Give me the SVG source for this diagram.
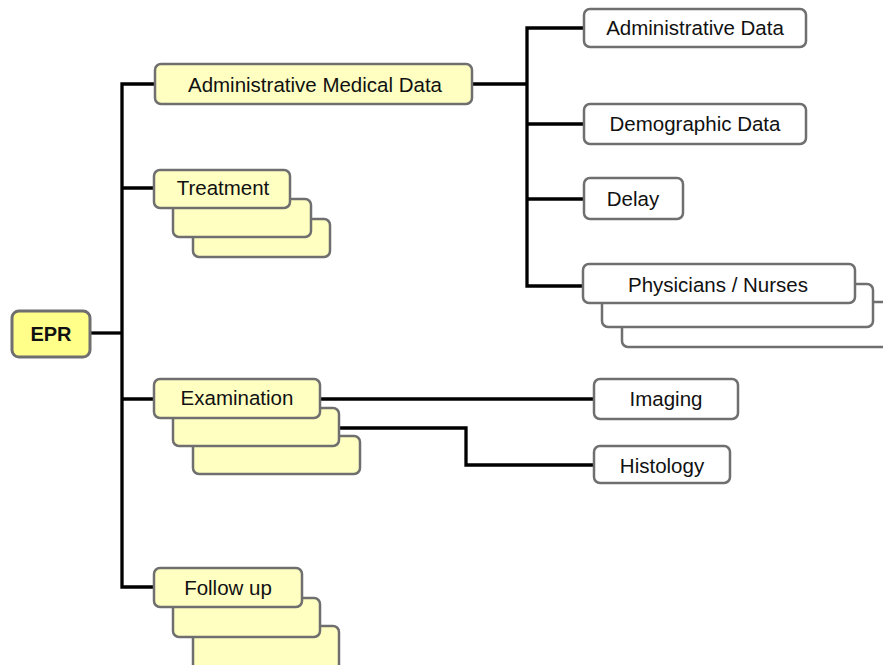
<svg xmlns="http://www.w3.org/2000/svg" width="883" height="665" viewBox="0 0 883 665">
<defs>
<style>
.y{fill:#ffffc2;stroke:#6f6f6f;stroke-width:2.5}
.w{fill:#ffffff;stroke:#6f6f6f;stroke-width:2.5}
.e{fill:#ffff8a;stroke:#6f6f6f;stroke-width:3}
.t{font-family:"Liberation Sans",Arial,sans-serif;font-size:20.5px;fill:#111;text-anchor:middle}
.b{font-family:"Liberation Sans",Arial,sans-serif;font-size:20px;font-weight:bold;fill:#111;text-anchor:middle}
.c{fill:none;stroke:#000;stroke-width:3.3}
</style>
</defs>
<rect width="883" height="665" fill="#fff"/>
<g id="connectors">
<polyline class="c" points="90,333 122,333"/>
<polyline class="c" points="155,84 122,84 122,587 155,587"/>
<polyline class="c" points="122,188 155,188"/>
<polyline class="c" points="122,399 155,399"/>
<polyline class="c" points="472,84 527,84"/>
<polyline class="c" points="584,28 527,28 527,286 584,286"/>
<polyline class="c" points="527,124 584,124"/>
<polyline class="c" points="527,199 584,199"/>
<polyline class="c" points="320,399 594,399"/>
<polyline class="c" points="339,428 466,428 466,465 594,465"/>
</g>
<g id="epr">
<rect class="e" x="12" y="311" width="78" height="46" rx="7"/>
<text class="b" x="51" y="341">EPR</text>
</g>
<g id="amd">
<rect class="y" x="155" y="64" width="317" height="40" rx="6"/>
<text class="t" x="315" y="92">Administrative Medical Data</text>
</g>
<g id="treatment">
<rect class="y" x="193" y="219" width="137" height="38" rx="6"/>
<rect class="y" x="173" y="199" width="138" height="38" rx="6"/>
<rect class="y" x="154" y="170" width="136" height="38" rx="6"/>
<text class="t" x="223" y="195">Treatment</text>
</g>
<g id="examination">
<rect class="y" x="193" y="436" width="167" height="38" rx="6"/>
<rect class="y" x="173" y="408" width="166" height="38" rx="6"/>
<rect class="y" x="154" y="379" width="166" height="39" rx="6"/>
<text class="t" x="237" y="405">Examination</text>
</g>
<g id="followup">
<rect class="y" x="193" y="626" width="146" height="44" rx="6"/>
<rect class="y" x="173" y="598" width="147" height="39" rx="6"/>
<rect class="y" x="154" y="568" width="148" height="39" rx="6"/>
<text class="t" x="228" y="595">Follow up</text>
</g>
<g id="admindata">
<rect class="w" x="584" y="9" width="222" height="38" rx="6"/>
<text class="t" x="695" y="35">Administrative Data</text>
</g>
<g id="demographic">
<rect class="w" x="584" y="104" width="222" height="40" rx="6"/>
<text class="t" x="695" y="131">Demographic Data</text>
</g>
<g id="delay">
<rect class="w" x="584" y="178" width="99" height="41" rx="6"/>
<text class="t" x="633" y="206">Delay</text>
</g>
<g id="physicians">
<rect class="w" x="622" y="302" width="290" height="45" rx="6"/>
<rect class="w" x="602" y="284" width="271" height="43" rx="6"/>
<rect class="w" x="583" y="264" width="272" height="39" rx="6"/>
<text class="t" x="718" y="292">Physicians / Nurses</text>
</g>
<g id="imaging">
<rect class="w" x="594" y="379" width="144" height="40" rx="6"/>
<text class="t" x="666" y="406">Imaging</text>
</g>
<g id="histology">
<rect class="w" x="594" y="446" width="136" height="37" rx="6"/>
<text class="t" x="662" y="473">Histology</text>
</g>
</svg>
